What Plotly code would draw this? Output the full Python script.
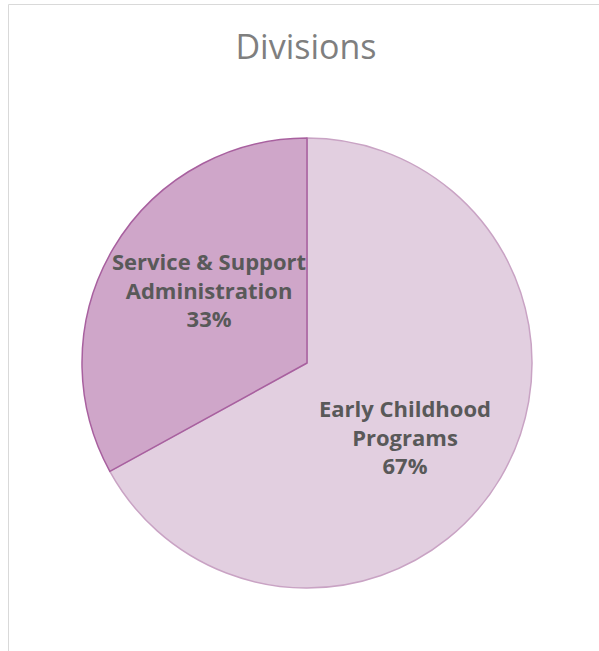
import math
import plotly.graph_objects as go

categories = ["Early Childhood Programs", "Service & Support Administration"]
label_lines = ["Early Childhood<br>Programs", "Service & Support<br>Administration"]
values = [67, 33]
fill_colors = ["#e2cfe0", "#cfa6c9"]
edge_colors = ["#c9a3c4", "#a8609f"]

W, H = 599, 651
L, R, T, B = 82, 67, 138, 63

fig = go.Figure()
fig.add_trace(go.Pie(
    labels=categories,
    values=values,
    sort=False,
    direction="clockwise",
    rotation=0,
    textinfo="none",
    hoverinfo="label+percent",
    marker=dict(colors=fill_colors, line=dict(color=edge_colors, width=1.5)),
    showlegend=False,
))

# label annotations placed near each slice's mid-angle
total = sum(values)
cum = 0
annotations = []
for name, v in zip(label_lines, values):
    mid = (cum + v / 2) / total * 2 * math.pi + math.radians(6.5)
    cum += v
    rf = 0.545
    x = 0.5 + rf * 0.5 * math.sin(mid)
    y = 0.5 + rf * 0.5 * math.cos(mid)
    pct = round(v / total * 100)
    annotations.append(dict(
        x=x, y=y, xref="paper", yref="paper",
        text=f"<b>{name}<br>{pct}%</b>",
        showarrow=False, xanchor="center", yanchor="middle",
        font=dict(family="Open Sans", size=22, color="#595959"),
    ))

pw, ph = W - L - R, H - T - B
fig.update_layout(
    width=W, height=H,
    margin=dict(l=L, r=R, t=T, b=B),
    paper_bgcolor="white",
    title=dict(text="Divisions", x=306 / W, xanchor="center",
               y=1 - 47 / H, yanchor="middle",
               font=dict(family="Open Sans", size=34, color="#7f7f7f")),
    annotations=annotations,
    shapes=[dict(type="rect", xref="paper", yref="paper",
                 x0=(8.5 - L) / pw, x1=(W + 5 - L) / pw,
                 y0=1 + (T - 4.5) / ph,
                 y1=-(B + 10) / ph,
                 line=dict(color="#d9d9d9", width=1), fillcolor="rgba(0,0,0,0)")],
)

fig.write_html("out.html")
